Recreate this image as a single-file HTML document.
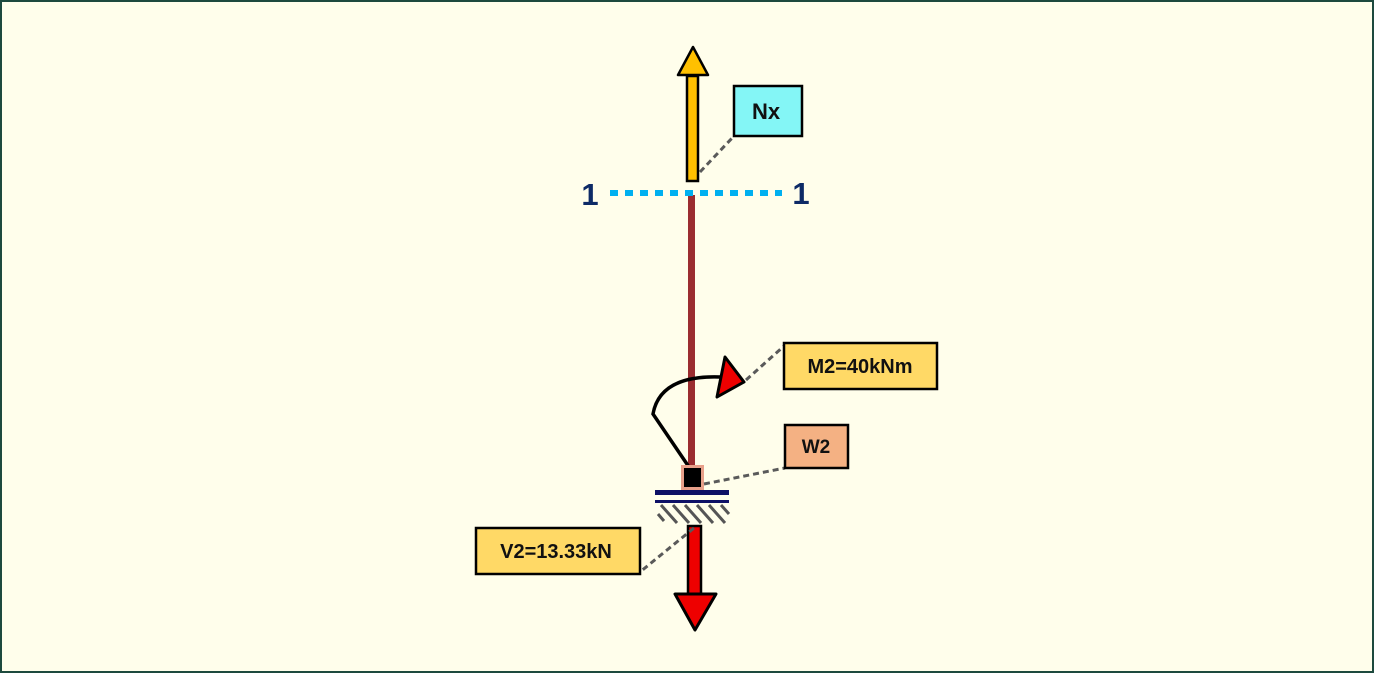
<!DOCTYPE html>
<html><head><style>
html,body{margin:0;padding:0;background:#fffeeb;}
svg{display:block;}
text{font-family:"Liberation Sans",sans-serif;font-weight:bold;}
</style></head><body>
<svg width="1374" height="673" viewBox="0 0 1374 673">
<rect x="1" y="1" width="1372" height="671" fill="#fffeeb" stroke="#1d4a3e" stroke-width="2"/>
<rect x="688" y="195" width="7" height="275" fill="#9b2d30"/>
<line x1="610" y1="193" x2="782" y2="193" stroke="#00b0f0" stroke-width="6" stroke-dasharray="8,7"/>
<text x="590" y="205" font-size="31" fill="#0d2a66" text-anchor="middle">1</text>
<text x="801" y="204" font-size="31" fill="#0d2a66" text-anchor="middle">1</text>
<rect x="687" y="76" width="11" height="105" fill="#ffc000" stroke="#000" stroke-width="2.5"/>
<polygon points="693,47 678,75 708,75" fill="#ffc000" stroke="#000" stroke-width="2.5" stroke-linejoin="round"/>
<line x1="700" y1="172" x2="734" y2="136" stroke="#5a5a5a" stroke-width="3" stroke-dasharray="6,4"/>
<rect x="734" y="86" width="68" height="50" fill="#84f6f6" stroke="#000" stroke-width="2.5"/>
<text x="766" y="119" font-size="22" text-anchor="middle" fill="#111">Nx</text>
<path d="M691,470 L653,414 Q660,375 720,377" fill="none" stroke="#000" stroke-width="3.5"/>
<polygon points="725,357 744,382 717,397" fill="#ee0000" stroke="#000" stroke-width="3" stroke-linejoin="round"/>
<line x1="746" y1="380" x2="784" y2="346" stroke="#5a5a5a" stroke-width="3" stroke-dasharray="6,4"/>
<rect x="784" y="343" width="153" height="46" fill="#ffd966" stroke="#000" stroke-width="2.5"/>
<text x="860" y="373" font-size="20" text-anchor="middle" fill="#111">M2=40kNm</text>
<rect x="681" y="465" width="23" height="25" fill="#e8a08a"/>
<rect x="684" y="468" width="17" height="19" fill="#000"/>
<line x1="704" y1="484" x2="785" y2="468" stroke="#5a5a5a" stroke-width="3" stroke-dasharray="6,4"/>
<rect x="785" y="425" width="63" height="43" fill="#f4b183" stroke="#000" stroke-width="2.5"/>
<text x="816" y="453" font-size="19" text-anchor="middle" fill="#111">W2</text>
<rect x="655" y="490" width="74" height="5" fill="#0e1166"/>
<rect x="655" y="500" width="74" height="3" fill="#0e1166"/>
<g stroke="#555" stroke-width="3">
<line x1="658" y1="514" x2="664" y2="521"/>
<line x1="661" y1="505" x2="677" y2="523"/>
<line x1="673" y1="505" x2="689" y2="523"/>
<line x1="685" y1="505" x2="701" y2="523"/>
<line x1="697" y1="505" x2="713" y2="523"/>
<line x1="709" y1="505" x2="725" y2="523"/>
<line x1="721" y1="505" x2="729" y2="514"/>
</g>
<rect x="688" y="526" width="13" height="68" fill="#ee0000" stroke="#000" stroke-width="2.5"/>
<polygon points="675,594 716,594 695,630" fill="#ee0000" stroke="#000" stroke-width="3" stroke-linejoin="round"/>
<line x1="694" y1="528" x2="640" y2="572" stroke="#5a5a5a" stroke-width="3" stroke-dasharray="6,4"/>
<rect x="476" y="528" width="164" height="46" fill="#ffd966" stroke="#000" stroke-width="2.5"/>
<text x="556" y="558" font-size="20" text-anchor="middle" fill="#111">V2=13.33kN</text>
</svg>
</body></html>
